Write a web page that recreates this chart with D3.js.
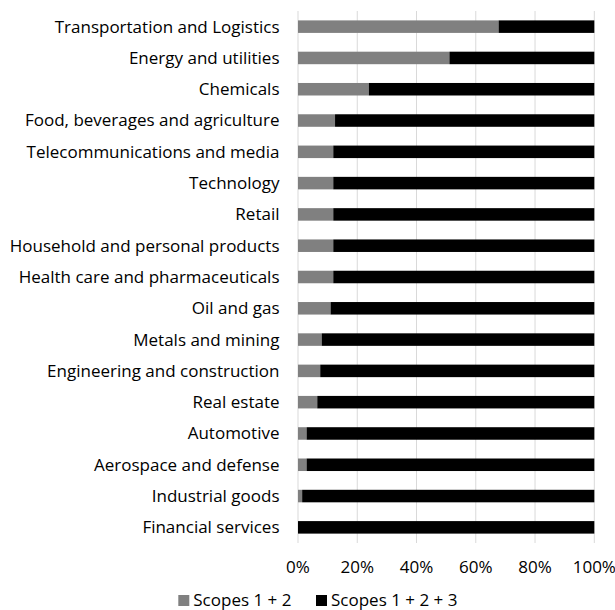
<!DOCTYPE html>
<html><head><meta charset="utf-8">
<script src="https://cdn.jsdelivr.net/npm/d3@7"></script>
<style>body{margin:0;background:#fff}svg{display:block}text{font-family:"Open Sans",sans-serif;fill:#000}</style>
</head><body>
<svg id="c" width="615" height="610"></svg>
<script>
const categories = ["Transportation and Logistics","Energy and utilities","Chemicals","Food, beverages and agriculture","Telecommunications and media","Technology","Retail","Household and personal products","Health care and pharmaceuticals","Oil and gas","Metals and mining","Engineering and construction","Real estate","Automotive","Aerospace and defense","Industrial goods","Financial services"];
const scopes12 = [67.7,51.1,23.9,12.5,11.9,11.9,11.9,11.9,11.9,11.0,8.0,7.5,6.5,2.9,2.9,1.4,0];
const scopes123 = scopes12.map(v => 100 - v);
const seriesNames = ["Scopes 1 + 2","Scopes 1 + 2 + 3"];
const seriesColors = ["#808080","#000000"];
const xTicks = [0,20,40,60,80,100];

const svg = d3.select("#c");
const m = {left:298, right:594.3, top:11, bottom:543};
const x = d3.scaleLinear().domain([0,100]).range([m.left, m.right]);
const y = d3.scaleBand().domain(categories).range([m.top, m.bottom]).paddingInner(0.6).paddingOuter(0.3);

const data = categories.map((c,i)=>({cat:c, s12:scopes12[i], s123:scopes123[i]}));
const stack = d3.stack().keys(["s12","s123"])(data);

svg.append("g").selectAll("line").data(xTicks).join("line")
  .attr("x1", d=>x(d)).attr("x2", d=>x(d)).attr("y1", m.top).attr("y2", m.bottom)
  .attr("stroke", "#d9d9d9").attr("stroke-width", 1);

svg.append("g").selectAll("g").data(stack).join("g")
  .attr("fill", (d,i)=>seriesColors[i])
  .selectAll("rect").data(d=>d).join("rect")
  .attr("x", d=>x(d[0])).attr("width", d=>Math.max(0, x(d[1])-x(d[0])))
  .attr("y", d=>y(d.data.cat)).attr("height", y.bandwidth());

svg.append("g").selectAll("text").data(categories).join("text")
  .attr("x", 279.5).attr("y", d=>y(d)+y.bandwidth()/2).attr("dy","0.35em")
  .attr("text-anchor","end").attr("font-size", 17).text(d=>d);

svg.append("g").selectAll("text").data(xTicks).join("text")
  .attr("x", d=>x(d)).attr("y", 567).attr("dy","0.35em")
  .attr("text-anchor","middle").attr("font-size", 17).text(d=>d+"%");

const lg = svg.append("g");
const lx = [178.3, 316];
seriesNames.forEach((n,i)=>{
  lg.append("rect").attr("x", lx[i]).attr("y", 595).attr("width", 11).attr("height", 11).attr("fill", seriesColors[i]);
  lg.append("text").attr("x", lx[i]+15).attr("y", 600.5).attr("dy","0.35em").attr("font-size", 17).text(n);
});
</script>
</body></html>
